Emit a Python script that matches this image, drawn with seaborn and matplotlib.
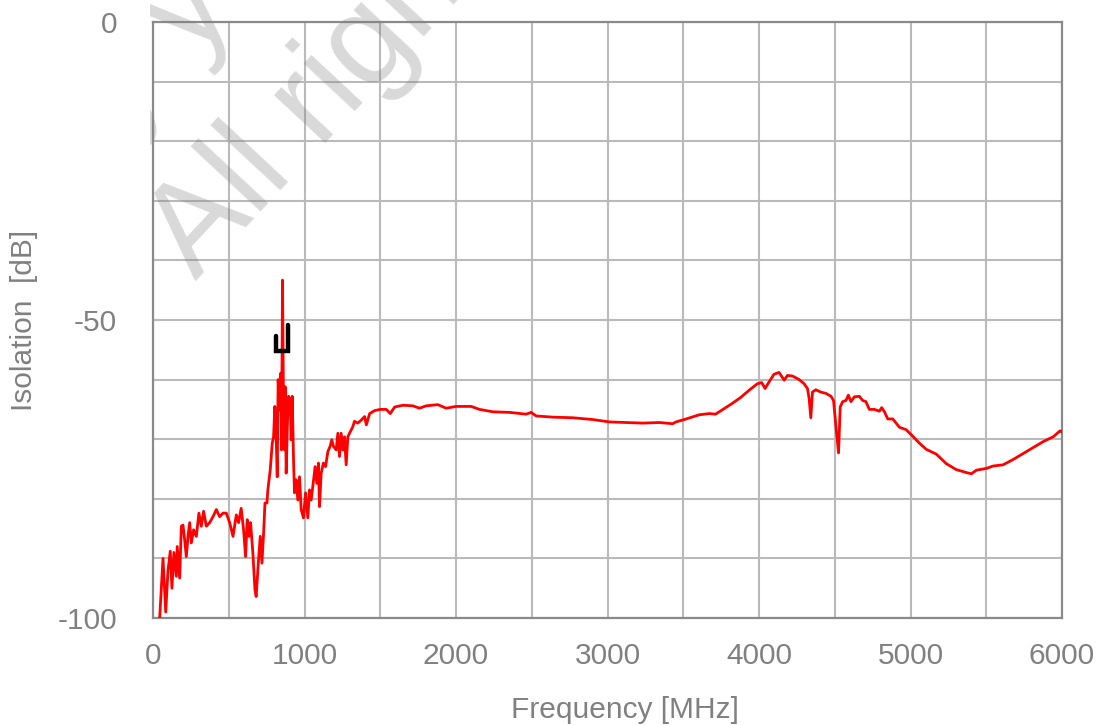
import numpy as np
import pandas as pd
import matplotlib
matplotlib.use("Agg")
import matplotlib.pyplot as plt
import seaborn as sns
from matplotlib.transforms import Bbox, IdentityTransform
from matplotlib.ticker import MultipleLocator, FixedLocator, FixedFormatter

# ---------------- data ----------------
freq_mhz = [
    30, 44, 66, 84, 99, 114, 125, 138, 154, 160, 176, 187, 198, 209, 220, 231, 242, 253,
    268, 286, 303, 319, 334, 352, 374, 396, 418, 440, 462, 484, 506, 528, 550, 565,
    582, 598, 611, 622, 633, 644, 659, 673, 681, 695, 708, 719, 730, 739, 752, 758,
    774, 787, 796, 804, 813, 820, 826, 835, 844, 848, 855, 862, 868, 873, 879, 888,
    895, 906, 912, 919, 928, 934, 945, 956, 967, 978, 993, 1007, 1022, 1033, 1044,
    1055, 1070, 1081, 1092, 1099, 1110, 1125, 1139, 1154, 1169, 1180, 1191, 1209,
    1220, 1231, 1242, 1253, 1264, 1275, 1286, 1297, 1319, 1330, 1352, 1374, 1397,
    1408, 1430, 1463, 1500, 1540, 1566, 1595, 1650, 1715, 1759, 1803, 1880, 1935,
    2000, 2100, 2155, 2243, 2353, 2463, 2496, 2529, 2639, 2770, 2902, 3012, 3122,
    3232, 3342, 3430, 3452, 3507, 3606, 3672, 3713, 3768, 3823, 3879, 3934, 3989,
    4018, 4040, 4066, 4099, 4132, 4143, 4166, 4188, 4221, 4265, 4298, 4320, 4331,
    4342, 4353, 4375, 4408, 4441, 4475, 4492, 4508, 4525, 4536, 4552, 4574, 4590,
    4607, 4629, 4662, 4684, 4706, 4728, 4762, 4795, 4810, 4828, 4850, 4883, 4927,
    4971, 5015, 5060, 5104, 5170, 5236, 5302, 5369, 5402, 5435, 5501, 5545, 5611,
    5678, 5744, 5810, 5876, 5942, 5987, 6000,
]
isolation_db = [
    -101.0, -100.0, -90.0, -99.0, -92.0, -88.8, -95.0, -89.0, -93.0, -88.0, -93.3,
    -84.6, -84.4, -86.9, -89.7, -86.3, -84.0, -87.4, -85.2, -86.3, -82.4, -84.6,
    -82.1, -84.6, -84.0, -83.0, -81.8, -83.0, -82.4, -82.4, -84.0, -86.3, -82.7,
    -84.0, -81.6, -85.2, -89.7, -83.5, -86.3, -84.0, -89.0, -95.3, -96.4, -90.8,
    -86.3, -90.8, -85.8, -80.7, -80.7, -78.5, -75.1, -70.7, -69.6, -64.5, -69.6,
    -76.3, -60.0, -65.1, -58.9, -71.8, -43.3, -67.3, -71.8, -61.2, -75.7, -66.8,
    -62.8, -63.4, -70.1, -62.8, -74.0, -79.0, -76.8, -80.2, -76.3, -81.8, -83.2,
    -79.0, -83.2, -78.5, -80.2, -77.9, -74.6, -77.4, -74.0, -81.3, -75.7, -74.0,
    -74.6, -72.1, -71.2, -70.1, -71.2, -71.8, -69.0, -72.9, -69.0, -71.8, -69.6,
    -74.3, -69.6, -69.0, -67.9, -67.0, -67.3, -66.8, -66.2, -67.6, -65.7, -65.2,
    -65.0, -65.0, -65.7, -64.6, -64.3, -64.4, -64.8, -64.4, -64.2, -64.8, -64.5,
    -64.5, -65.0, -65.4, -65.5, -65.8, -65.5, -66.1, -66.3, -66.4, -66.7, -67.1,
    -67.2, -67.3, -67.2, -67.4, -67.1, -66.7, -65.9, -65.7, -65.8, -64.9, -64.0,
    -63.0, -61.8, -60.7, -60.5, -61.5, -60.4, -59.1, -58.8, -59.2, -60.1, -59.3,
    -59.4, -60.0, -60.7, -61.5, -63.2, -66.4, -62.1, -61.7, -62.1, -62.3, -62.8,
    -63.5, -67.9, -72.3, -64.6, -63.7, -63.5, -62.6, -63.7, -62.9, -62.8, -63.5,
    -63.7, -65.0, -65.0, -65.3, -64.7, -65.4, -66.6, -66.6, -68.0, -68.4, -69.5,
    -70.7, -71.7, -72.5, -74.1, -75.1, -75.6, -75.8, -75.2, -74.9, -74.5, -74.3,
    -73.4, -72.4, -71.4, -70.4, -69.6, -68.6, -68.8,
]

# black band marker near 850 MHz
marker_freq = [815, 815, 894, 894]
marker_db = [-52.7, -55.2, -55.2, -50.8]

x_ticks = [0, 1000, 2000, 3000, 4000, 5000, 6000]
y_label_ticks = [0, -50, -100]

# ---------------- style ----------------
sns.set_theme(style="white")
plt.rcParams["font.family"] = ["Liberation Sans", "DejaVu Sans"]
TXT = "#808080"
GRID = "#bababa"
FS = 21.5

fig = plt.figure(figsize=(11.08, 7.25), dpi=100)
ax = fig.add_axes([153 / 1108, 107 / 725, 909 / 1108, 596 / 725])

df = pd.DataFrame({"Frequency": freq_mhz, "Isolation": isolation_db})
sns.lineplot(data=df, x="Frequency", y="Isolation", ax=ax, color="#ff0000",
             linewidth=2.0, sort=False, estimator=None, zorder=3)
mk = pd.DataFrame({"f": marker_freq, "d": marker_db})
ax.plot(mk["f"], mk["d"], color="black", linewidth=3.2, solid_joinstyle="miter",
        zorder=4)

ax.set_xlim(0, 6000)
ax.set_ylim(-100, 0)

ax.xaxis.set_major_locator(FixedLocator(x_ticks))
ax.xaxis.set_minor_locator(MultipleLocator(500))
ax.set_xticklabels([str(v) for v in x_ticks])

yt = list(range(-100, 1, 10))
ax.yaxis.set_major_locator(FixedLocator(yt))
ax.yaxis.set_major_formatter(FixedFormatter([str(v) if v in y_label_ticks else "" for v in yt]))

ax.grid(True, which="both", color=GRID, linewidth=1.5, zorder=0)
ax.set_axisbelow(True)
ax.tick_params(axis="both", which="both", length=0, labelsize=FS, labelcolor=TXT)
ax.tick_params(axis="x", pad=17)
ax.tick_params(axis="y", pad=26)

for s in ax.spines.values():
    s.set_color("#8a8a8a")
    s.set_linewidth(1.6)

ax.set_xlabel("Frequency [MHz]", fontsize=FS, color=TXT)
ax.set_ylabel("Isolation  [dB]", fontsize=FS, color=TXT, labelpad=14)
ax.xaxis.set_label_coords(0.519, -0.131)

# ---------------- watermark ----------------
H = 725
clip = Bbox.from_extents(150, 0, 1108, H)
for txt, (px, py) in [("by your company", (74, 188)),
                      ("All rights reserved.", (196, 282))]:
    t = fig.text(px, H - py, txt, transform=IdentityTransform(), rotation=47,
                 rotation_mode="anchor", ha="left", va="baseline",
                 fontsize=94, color="#808080", alpha=0.3, zorder=10)
    t.set_clip_box(clip)
    t.set_clip_on(True)

fig.savefig("out.png", dpi=100)
